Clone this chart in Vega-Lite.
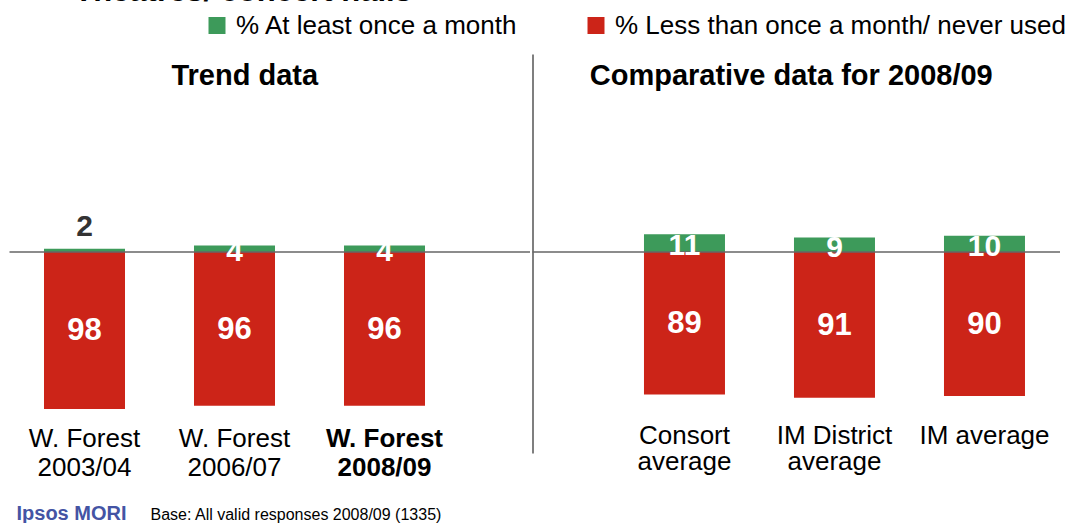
{
  "$schema": "https://vega.github.io/schema/vega-lite/v6.json",
  "padding": {"left": 8.5, "top": -25, "right": 0, "bottom": 0},
  "autosize": {"type": "pad"},
  "background": "white",
  "title": {"text": "Theatres/ concert halls", "anchor": "start", "fontSize": 31, "fontWeight": "bold", "color": "#000000", "dx": 65.5, "offset": 5},
  "datasets": {
    "trend": [
      {"period": "W. Forest|2003/04", "atLeastMonthly": 2, "lessOrNever": 98},
      {"period": "W. Forest|2006/07", "atLeastMonthly": 4, "lessOrNever": 96},
      {"period": "W. Forest|2008/09", "atLeastMonthly": 4, "lessOrNever": 96}
    ],
    "comparative": [
      {"period": "Consort|average", "atLeastMonthly": 11, "lessOrNever": 89},
      {"period": "IM District|average", "atLeastMonthly": 9, "lessOrNever": 91},
      {"period": "IM average", "atLeastMonthly": 10, "lessOrNever": 90}
    ],
    "baseline": [{"zero": 0}]
  },
  "spacing": 0,
  "hconcat": [
    {
      "data": {"name": "trend"},
      "width": 520.5,
      "height": 399,
      "title": {"text": "Trend data", "fontSize": 29, "fontWeight": "bold", "color": "#000000", "offset": -51, "baseline": "middle", "dx": -25},
      "resolve": {"scale": {"y": "independent"}},
      "layer": [
        {
          "mark": {"type": "bar"},
          "encoding": {
            "x": {"field": "period", "type": "nominal", "sort": null,
              "scale": {"paddingInner": 0.46, "paddingOuter": 0.465, "align": 0.2473, "round": false},
              "axis": {"title": "Base: All valid responses 2008/09 (1335)", "titleX": 140.5, "titleY": 94, "titleAlign": "left", "titleAnchor": "start", "titleBaseline": "alphabetic", "titleFontSize": 16, "titleFontWeight": "normal", "titleColor": "#000000",
                "domain": false, "ticks": false, "labelPadding": 0, "offset": -28, "labelFontSize": 26, "labelLineHeight": 29, "labelExpr": "split(datum.label, '|')", "labelAngle": 0, "labelColor": "#000000", "labelLimit": 0, "labelOverlap": false,
                "labelFontWeight": {"condition": {"test": "datum.value === 'W. Forest|2008/09'", "value": "bold"}, "value": "normal"}}},
            "y": {"field": "atLeastMonthly", "type": "quantitative", "scale": {"domain": [-125.5, 123.5], "nice": false, "zero": false},
              "axis": {"domain": false, "ticks": false, "labels": false, "grid": false, "title": "Ipsos MORI", "titleAngle": 0, "titleX": 6.5, "titleY": 465, "titleAlign": "left", "titleBaseline": "alphabetic", "titleFontSize": 20, "titleColor": "#4454a4", "titleFontWeight": "bold"}},
            "y2": {"datum": 0},
            "color": {"datum": "% At least once a month", "type": "nominal",
              "scale": {"domain": ["% At least once a month", "% Less than once a month/ never used"], "range": ["#3d9a5a", "#cc2418"]}}
          }
        },
        {
          "mark": {"type": "bar"},
          "encoding": {
            "x": {"field": "period", "type": "nominal", "sort": null},
            "y": {"field": "lessOrNever", "type": "quantitative", "scale": {"domain": [-123.5, 125.5], "reverse": true, "nice": false, "zero": false}, "axis": null},
            "y2": {"datum": 0},
            "color": {"datum": "% Less than once a month/ never used", "type": "nominal"}
          }
        },
        {
          "data": {"name": "baseline"},
          "mark": {"type": "rule", "color": "#666666", "strokeWidth": 1.5},
          "encoding": {
            "y": {"field": "zero", "type": "quantitative", "scale": {"domain": [-125.5, 123.5], "nice": false, "zero": false}, "axis": null}
          }
        },
        {
          "mark": {"type": "text", "fontSize": 31, "fontWeight": "bold", "color": "#ffffff", "baseline": "middle", "dy": 1},
          "encoding": {
            "x": {"field": "period", "type": "nominal", "sort": null},
            "y": {"field": "lessOrNever", "type": "quantitative", "scale": {"domain": [-247, 251], "reverse": true, "nice": false, "zero": false}, "axis": null},
            "text": {"field": "lessOrNever", "type": "quantitative"}
          }
        },
        {
          "transform": [{"filter": "datum.atLeastMonthly >= 3"}],
          "mark": {"type": "text", "fontSize": 30, "fontWeight": "bold", "color": "#ffffff", "baseline": "middle", "dy": 3},
          "encoding": {
            "x": {"field": "period", "type": "nominal", "sort": null},
            "y": {"field": "atLeastMonthly", "type": "quantitative", "scale": {"domain": [-251, 247], "nice": false, "zero": false}, "axis": null},
            "text": {"field": "atLeastMonthly", "type": "quantitative"}
          }
        },
        {
          "transform": [{"filter": "datum.atLeastMonthly < 3"}],
          "mark": {"type": "text", "fontSize": 30, "fontWeight": "bold", "color": "#333333", "baseline": "alphabetic", "dy": -13},
          "encoding": {
            "x": {"field": "period", "type": "nominal", "sort": null},
            "y": {"field": "atLeastMonthly", "type": "quantitative", "scale": {"domain": [-125.5, 123.5], "nice": false, "zero": false}, "axis": null},
            "text": {"field": "atLeastMonthly", "type": "quantitative"}
          }
        }
      ]
    },
    {
      "data": {"name": "comparative"},
      "width": 527.5,
      "height": 399,
      "title": {"text": "Comparative data for 2008/09", "fontSize": 29, "fontWeight": "bold", "color": "#000000", "offset": -51, "baseline": "middle", "dx": -5},
      "resolve": {"scale": {"y": "independent"}},
      "layer": [
        {
          "mark": {"type": "bar"},
          "encoding": {
            "x": {"field": "period", "type": "nominal", "sort": null,
              "scale": {"paddingInner": 0.46, "paddingOuter": 0.4883, "align": 0.761, "round": false},
              "axis": {"title": null, "domain": false, "ticks": false, "labelPadding": 0, "offset": -31, "labelFontSize": 26, "labelLineHeight": 26, "labelExpr": "split(datum.label, '|')", "labelAngle": 0, "labelColor": "#000000", "labelLimit": 0, "labelOverlap": false}},
            "y": {"field": "atLeastMonthly", "type": "quantitative", "scale": {"domain": [-125.5, 123.5], "nice": false, "zero": false},
              "axis": {"domain": true, "domainColor": "#555555", "domainWidth": 1.5, "ticks": false, "labels": false, "grid": false, "title": null}},
            "y2": {"datum": 0},
            "color": {"datum": "% At least once a month", "type": "nominal"}
          }
        },
        {
          "mark": {"type": "bar"},
          "encoding": {
            "x": {"field": "period", "type": "nominal", "sort": null},
            "y": {"field": "lessOrNever", "type": "quantitative", "scale": {"domain": [-123.5, 125.5], "reverse": true, "nice": false, "zero": false}, "axis": null},
            "y2": {"datum": 0},
            "color": {"datum": "% Less than once a month/ never used", "type": "nominal"}
          }
        },
        {
          "data": {"name": "baseline"},
          "mark": {"type": "rule", "color": "#666666", "strokeWidth": 1.5},
          "encoding": {
            "y": {"field": "zero", "type": "quantitative", "scale": {"domain": [-125.5, 123.5], "nice": false, "zero": false}, "axis": null}
          }
        },
        {
          "mark": {"type": "text", "fontSize": 31, "fontWeight": "bold", "color": "#ffffff", "baseline": "middle", "dy": 1},
          "encoding": {
            "x": {"field": "period", "type": "nominal", "sort": null},
            "y": {"field": "lessOrNever", "type": "quantitative", "scale": {"domain": [-247, 251], "reverse": true, "nice": false, "zero": false}, "axis": null},
            "text": {"field": "lessOrNever", "type": "quantitative"}
          }
        },
        {
          "mark": {"type": "text", "fontSize": 30, "fontWeight": "bold", "color": "#ffffff", "baseline": "middle", "dy": 3},
          "encoding": {
            "x": {"field": "period", "type": "nominal", "sort": null},
            "y": {"field": "atLeastMonthly", "type": "quantitative", "scale": {"domain": [-251, 247], "nice": false, "zero": false}, "axis": null},
            "text": {"field": "atLeastMonthly", "type": "quantitative"}
          }
        }
      ]
    }
  ],
  "config": {
    "font": "Liberation Sans",
    "view": {"stroke": null},
    "axis": {"grid": false},
    "legend": {"orient": "none", "legendX": 194.5, "legendY": -41.5, "direction": "horizontal", "title": null, "symbolType": "square", "symbolSize": 289, "symbolStrokeWidth": 0, "labelFontSize": 26, "labelColor": "#000000", "labelOffset": 6, "columnPadding": 65, "labelLimit": 0, "padding": 0}
  }
}
